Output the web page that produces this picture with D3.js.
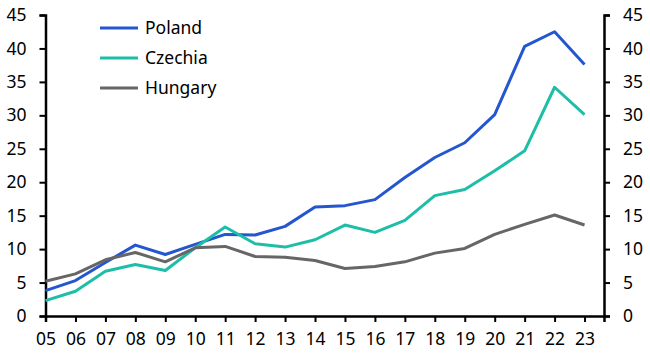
<!DOCTYPE html>
<html>
<head>
<meta charset="utf-8">
<script src="https://cdn.jsdelivr.net/npm/d3@7"></script>
<style>
  body { margin: 0; background: #fff; }
  text { font-family: "Noto Sans", sans-serif; fill: #000; }
</style>
</head>
<body>
<div id="chart"></div>
<script>
// yearly values, 2005-2023
const years = ["05","06","07","08","09","10","11","12","13","14","15","16","17","18","19","20","21","22","23"];
const poland  = [3.8, 5.3, 8.0, 10.6, 9.2, 10.7, 12.2, 12.1, 13.4, 16.3, 16.5, 17.4, 20.7, 23.7, 25.9, 30.1, 40.3, 42.5, 37.6];
const czechia = [2.3, 3.7, 6.7, 7.7, 6.8, 10.2, 13.3, 10.8, 10.3, 11.4, 13.6, 12.5, 14.3, 18.0, 18.9, 21.7, 24.7, 34.2, 30.1];
const hungary = [5.2, 6.3, 8.4, 9.5, 8.1, 10.2, 10.4, 8.9, 8.8, 8.3, 7.1, 7.4, 8.1, 9.4, 10.1, 12.2, 13.7, 15.1, 13.6];
const yTicks = [0, 5, 10, 15, 20, 25, 30, 35, 40, 45];

const series = [
  {name: "Poland", values: poland, color: "#2356cf"},
  {name: "Czechia", values: czechia, color: "#1dbea8"},
  {name: "Hungary", values: hungary, color: "#666666"}
];

const width = 650, height = 354;
const margin = {top: 15, right: 46, bottom: 38, left: 45.5};

const svg = d3.select("#chart").append("svg")
  .attr("width", width)
  .attr("height", height);

// x runs a bit past the last year so the right axis sits away from the data
const x = d3.scaleLinear()
  .domain([0, years.length - 1 + 0.65])
  .range([margin.left, width - margin.right]);

const y = d3.scaleLinear()
  .domain([0, 45])
  .range([height - margin.bottom, margin.top]);

const xAxis = d3.axisBottom(x)
  .tickValues(d3.range(years.length))
  .tickFormat(i => years[i])
  .tickSize(6)
  .tickPadding(11);

const gx = svg.append("g")
  .attr("transform", `translate(0,${y(0)})`)
  .call(xAxis);
gx.select(".domain").attr("stroke-width", 2.5);

const gyl = svg.append("g")
  .attr("transform", `translate(${x(0)},0)`)
  .call(d3.axisLeft(y).tickValues(yTicks).tickSize(6).tickPadding(13));
gyl.select(".domain").attr("stroke-width", 2.5);

const gyr = svg.append("g")
  .attr("transform", `translate(${x.range()[1]},0)`)
  .call(d3.axisRight(y).tickValues(yTicks).tickSize(6).tickPadding(13));
gyr.select(".domain").attr("stroke-width", 2.5);

svg.selectAll(".tick line").attr("stroke-width", 2);
svg.selectAll(".tick text").style("font-size", "17.5px").attr("fill", "#000");
svg.selectAll(".domain").attr("stroke", "#000");

const line = d3.line()
  .x((d, i) => x(i))
  .y(d => y(d));

svg.selectAll(".series")
  .data(series)
  .join("path")
  .attr("class", "series")
  .attr("fill", "none")
  .attr("stroke", d => d.color)
  .attr("stroke-width", 3)
  .attr("stroke-linejoin", "round")
  .attr("d", d => line(d.values));

// legend
const legend = svg.append("g").attr("transform", "translate(100,28)");
const item = legend.selectAll("g")
  .data(series)
  .join("g")
  .attr("transform", (d, i) => `translate(0,${i * 30})`);
item.append("line")
  .attr("x1", 0).attr("x2", 38)
  .attr("stroke", d => d.color)
  .attr("stroke-width", 3);
item.append("text")
  .attr("x", 45)
  .attr("dy", "0.35em")
  .style("font-size", "17.5px")
  .text(d => d.name);
</script>
</body>
</html>
